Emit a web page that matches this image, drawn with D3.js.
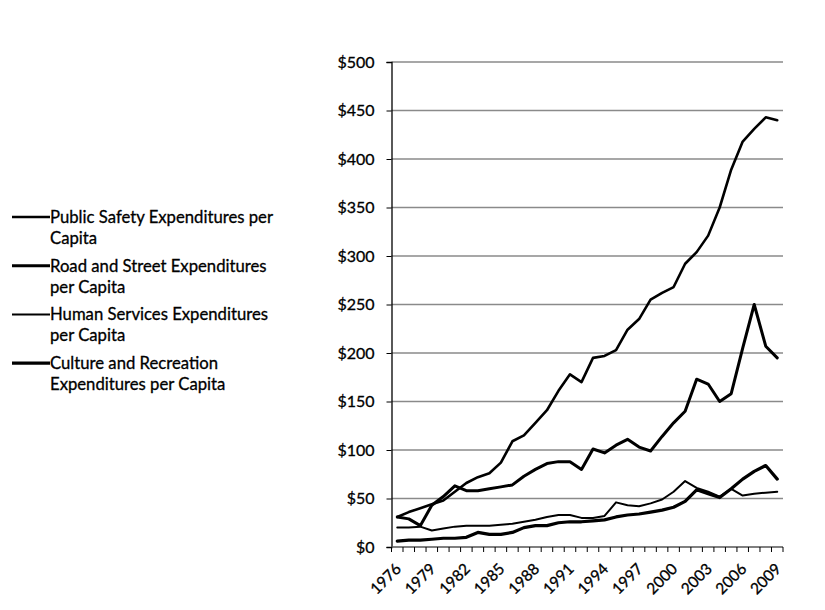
<!DOCTYPE html>
<html><head><meta charset="utf-8">
<script src="https://cdn.jsdelivr.net/npm/d3@7"></script>
<style>
body{margin:0;background:#fff;}
svg text{font-family:Lato,"Open Sans",sans-serif;fill:#000;stroke:#000;stroke-width:0.3px;}
</style></head>
<body><svg id="c" width="825" height="610"></svg>
<script>
const years = ["1976","1977","1978","1979","1980","1981","1982","1983","1984","1985","1986","1987","1988","1989","1990","1991","1992","1993","1994","1995","1996","1997","1998","1999","2000","2001","2002","2003","2004","2005","2006","2007","2008","2009"];
const publicSafety = [31,36,40,44,48,57,66,72,76,87,109,115,128,141,161,178,170,195,197,203,224,235,255,262,268,292,304,321,350,389,418,431,443,440];
const roadStreet = [31,29,22,43,52,63,58,58,60,62,64,73,80,86,88,88,80,101,97,105,111,103,99,114,128,140,173,168,150,158,205,250,207,195];
const humanServices = [20,20,21,17,19,21,22,22,22,23,24,26,28,31,33,33,30,30,32,46,43,42,45,49,57,68,61,57,52,60,53,55,56,57];
const cultureRec = [6,7,7,8,9,9,10,15,13,13,15,20,22,22,25,26,26,27,28,31,33,34,36,38,41,47,59,55,51,60,70,78,84,70];
const yTicks = [0,50,100,150,200,250,300,350,400,450,500];
const xLabelYears = ["1976","1979","1982","1985","1988","1991","1994","1997","2000","2003","2006","2009"];
const seriesNames = [["Public Safety Expenditures per","Capita"],["Road and Street Expenditures","per Capita"],["Human Services Expenditures","per Capita"],["Culture and Recreation","Expenditures per Capita"]];

const series = [
  {name:seriesNames[0], values:publicSafety, w:2.6},
  {name:seriesNames[1], values:roadStreet, w:3},
  {name:seriesNames[2], values:humanServices, w:2},
  {name:seriesNames[3], values:cultureRec, w:3.2}
];

const svg = d3.select("#c");
const pLeft = 391.5, pRight = 783, pTop = 62, pBottom = 547;
const x = d3.scaleBand().domain(years).range([pLeft,pRight]).padding(0);
const cx = d => x(d) + x.bandwidth()/2;
const y = d3.scaleLinear().domain([0,500]).range([pBottom,pTop]);

// gridlines
svg.append("g").selectAll("line").data(yTicks.filter(t=>t>0)).join("line")
  .attr("x1",pLeft).attr("x2",pRight).attr("y1",d=>y(d)).attr("y2",d=>y(d))
  .attr("stroke","#8a8a8a").attr("stroke-width",1.3);

// y axis
const yAxis = d3.axisLeft(y).tickValues(yTicks).tickSize(5).tickPadding(12).tickFormat(d=>"$"+d);
const gy = svg.append("g").attr("transform",`translate(${pLeft},0)`).call(yAxis);
gy.select(".domain").attr("stroke","#000").attr("stroke-width",1.3);
gy.selectAll(".tick line").attr("stroke","#000");
gy.selectAll("text").attr("font-size",16).attr("font-family","Lato");

// x axis line and ticks
svg.append("line").attr("x1",pLeft).attr("x2",pRight).attr("y1",pBottom).attr("y2",pBottom)
  .attr("stroke","#555").attr("stroke-width",1.3);
const bounds = years.map(d=>x(d)).concat([pRight]);
svg.append("g").selectAll("line").data(bounds).join("line")
  .attr("x1",d=>d).attr("x2",d=>d).attr("y1",pBottom).attr("y2",pBottom+5)
  .attr("stroke","#000").attr("stroke-width",1);
svg.append("g").selectAll("text").data(xLabelYears).join("text")
  .attr("transform",d=>`translate(${cx(d)+1},${pBottom+19}) rotate(-45)`)
  .attr("text-anchor","end").attr("dy","0.35em")
  .attr("font-size",15.5).text(d=>d);

// lines
const line = d3.line().x((d,i)=>cx(years[i])).y(d=>y(d));
svg.append("g").selectAll("path").data(series).join("path")
  .attr("d",d=>line(d.values)).attr("fill","none").attr("stroke","#000")
  .attr("stroke-width",d=>d.w).attr("stroke-linejoin","round").attr("stroke-linecap","round");

// legend
const lg = svg.append("g");
series.forEach((s,i)=>{
  const yy = 217 + i*48.7;
  lg.append("line").attr("x1",12).attr("x2",50).attr("y1",yy).attr("y2",yy)
    .attr("stroke","#000").attr("stroke-width",s.w);
  s.name.forEach((t,j)=>{
    lg.append("text").attr("x",50).attr("y",yy+j*21).attr("dy","0.35em")
      .attr("font-size",16.7).text(t);
  });
});
</script></body></html>
